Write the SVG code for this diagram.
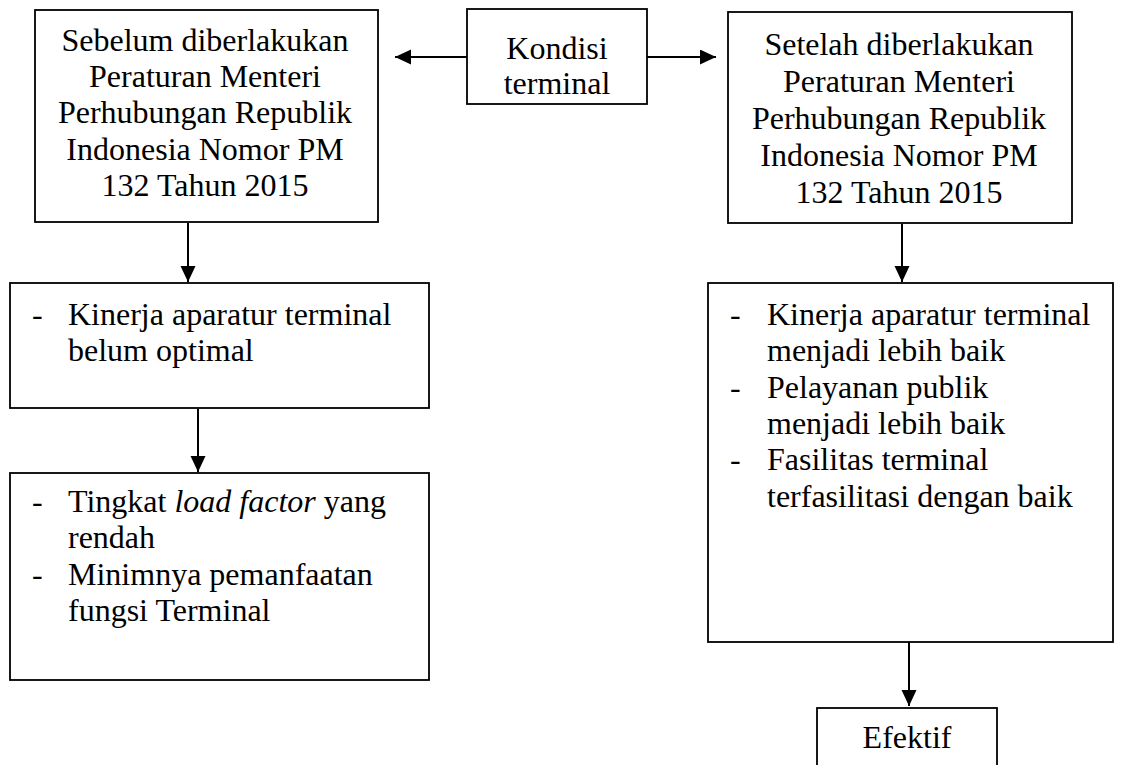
<svg xmlns="http://www.w3.org/2000/svg" width="1121" height="765" viewBox="0 0 1121 765">
<defs>
<style>
.box{fill:#fff;stroke:#000;stroke-width:1.8}
.t{font-family:"Liberation Serif","Times New Roman",serif;font-size:32px;fill:#000}
.c{text-anchor:middle}
.edge{stroke:#000;stroke-width:2;fill:none;marker-end:url(#ah)}
</style>
<marker id="ah" markerUnits="userSpaceOnUse" markerWidth="16" markerHeight="16" refX="16" refY="7.5" orient="auto">
<path d="M0,0 L16,7.5 L0,15 z" fill="#000"/>
</marker>
</defs>
<rect width="1121" height="765" fill="#fff"/>
<g id="connectors">
<line class="edge" x1="467" y1="57" x2="395" y2="57"/>
<line class="edge" x1="647" y1="57" x2="716" y2="57"/>
<line class="edge" x1="188" y1="223" x2="188" y2="282"/>
<line class="edge" x1="198" y1="409" x2="198" y2="472"/>
<line class="edge" x1="902" y1="224" x2="902" y2="282"/>
<line class="edge" x1="909" y1="636" x2="909" y2="706"/>
</g>
<g id="kondisi">
<rect class="box" x="467" y="9" width="180" height="95"/>
<text class="t c" x="557" y="59">Kondisi</text>
<text class="t c" x="557" y="94">terminal</text>
</g>
<g id="sebelum">
<rect class="box" x="35" y="10" width="343" height="212"/>
<text class="t c" x="205" y="51">Sebelum diberlakukan</text>
<text class="t c" x="205" y="87">Peraturan Menteri</text>
<text class="t c" x="205" y="123">Perhubungan Republik</text>
<text class="t c" x="205" y="160">Indonesia Nomor PM</text>
<text class="t c" x="205" y="196">132 Tahun 2015</text>
</g>
<g id="setelah">
<rect class="box" x="728" y="12" width="344" height="211"/>
<text class="t c" x="899" y="55">Setelah diberlakukan</text>
<text class="t c" x="899" y="92">Peraturan Menteri</text>
<text class="t c" x="899" y="129">Perhubungan Republik</text>
<text class="t c" x="899" y="166">Indonesia Nomor PM</text>
<text class="t c" x="899" y="203">132 Tahun 2015</text>
</g>
<g id="kinerja-belum">
<rect class="box" x="10" y="283" width="419" height="125"/>
<text class="t" x="32" y="325">-</text>
<text class="t" x="68" y="325">Kinerja aparatur terminal</text>
<text class="t" x="68" y="361">belum optimal</text>
</g>
<g id="load-factor">
<rect class="box" x="10" y="473" width="419" height="207"/>
<text class="t" x="32" y="512">-</text>
<text class="t" x="68" y="512">Tingkat <tspan font-style="italic">load factor</tspan> yang</text>
<text class="t" x="68" y="548">rendah</text>
<text class="t" x="32" y="585">-</text>
<text class="t" x="68" y="585">Minimnya pemanfaatan</text>
<text class="t" x="68" y="621">fungsi Terminal</text>
</g>
<g id="kinerja-baik">
<rect class="box" x="708" y="283" width="405" height="359"/>
<text class="t" x="730" y="325">-</text>
<text class="t" x="767" y="325">Kinerja aparatur terminal</text>
<text class="t" x="767" y="361">menjadi lebih baik</text>
<text class="t" x="730" y="398">-</text>
<text class="t" x="767" y="398">Pelayanan publik</text>
<text class="t" x="767" y="434">menjadi lebih baik</text>
<text class="t" x="730" y="470">-</text>
<text class="t" x="767" y="470">Fasilitas terminal</text>
<text class="t" x="767" y="507">terfasilitasi dengan baik</text>
</g>
<g id="efektif">
<rect class="box" x="817" y="708" width="180" height="70"/>
<text class="t c" x="907" y="748">Efektif</text>
</g>
</svg>
